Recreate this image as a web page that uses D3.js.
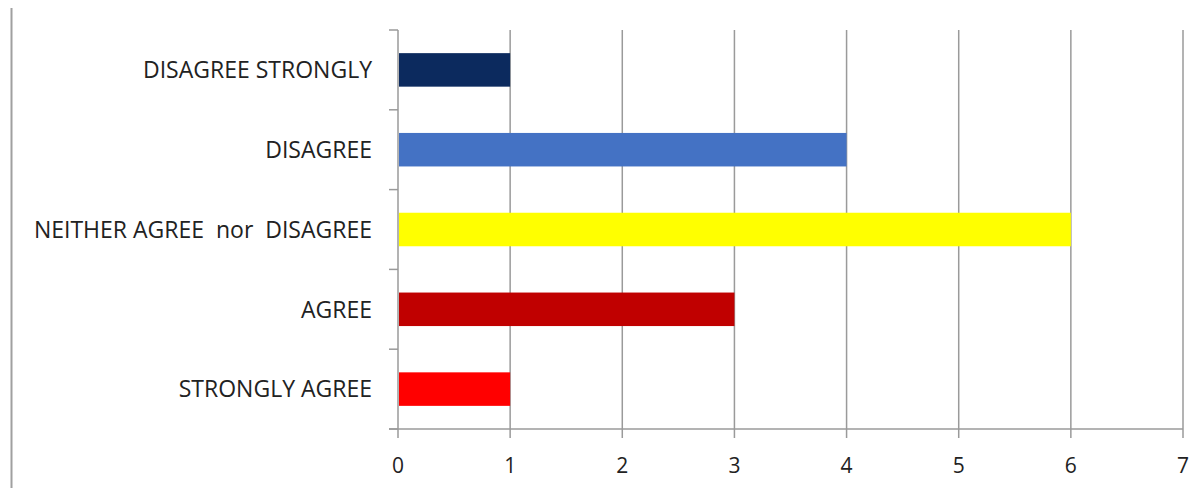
<!DOCTYPE html>
<html>
<head>
<meta charset="utf-8">
<script src="https://cdn.jsdelivr.net/npm/d3@7"></script>
<style>
  body { margin: 0; background: #fff; }
  text { font-family: "Open Sans", sans-serif; fill: #222; }
</style>
</head>
<body>
<svg id="chart" width="1189" height="488"></svg>
<script>
// categories top to bottom, as the chart shows them
const categories = ["DISAGREE STRONGLY", "DISAGREE", "NEITHER AGREE  nor  DISAGREE", "AGREE", "STRONGLY AGREE"]
const counts = [1, 4, 6, 3, 1]
const barColors = ["#0c2a5e", "#4472c4", "#ffff00", "#c00000", "#ff0000"]
const xTicks = [0, 1, 2, 3, 4, 5, 6, 7]

const svg = d3.select("#chart")
const margin = {top: 30, right: 6, bottom: 59, left: 398}
const width = 1189
const height = 488
const gridColor = "#9a9a9a"

// frame line on the far left
svg.append("line")
  .attr("x1", 11.5).attr("x2", 11.5)
  .attr("y1", 8).attr("y2", height)
  .attr("stroke", "#a0a0a0")
  .attr("stroke-width", 2)

const x = d3.scaleLinear()
  .domain([0, 7])
  .range([margin.left, width - margin.right])

const y = d3.scaleBand()
  .domain(categories)
  .range([margin.top, height - margin.bottom])
  .paddingInner(0.58)
  .paddingOuter(0.29)

const step = y.step()
const yBottom = height - margin.bottom

// vertical gridlines
svg.append("g")
  .selectAll("line")
  .data(xTicks)
  .join("line")
  .attr("x1", d => x(d)).attr("x2", d => x(d))
  .attr("y1", margin.top).attr("y2", yBottom + 9)
  .attr("stroke", gridColor)
  .attr("stroke-width", 1.5)

// y axis ticks at band boundaries
const boundaries = d3.range(categories.length + 1).map(i => margin.top + i * step)
svg.append("g")
  .selectAll("line")
  .data(boundaries)
  .join("line")
  .attr("x1", x(0) - 9).attr("x2", x(0))
  .attr("y1", d => d).attr("y2", d => d)
  .attr("stroke", gridColor)
  .attr("stroke-width", 1.5)

// x axis line
svg.append("line")
  .attr("x1", x(0) - 9).attr("x2", x(7))
  .attr("y1", yBottom).attr("y2", yBottom)
  .attr("stroke", gridColor)
  .attr("stroke-width", 1.5)

// bars
svg.append("g")
  .selectAll("rect")
  .data(categories)
  .join("rect")
  .attr("x", x(0) + 1)
  .attr("y", d => y(d))
  .attr("width", (d, i) => x(counts[i]) - x(0) - 1)
  .attr("height", y.bandwidth())
  .attr("fill", (d, i) => barColors[i])

// category labels
svg.append("g")
  .selectAll("text")
  .data(categories)
  .join("text")
  .attr("x", 372)
  .attr("y", d => y(d) + y.bandwidth() / 2)
  .attr("dy", "0.36em")
  .attr("text-anchor", "end")
  .attr("font-size", 23)
  .style("white-space", "pre")
  .text(d => d)

// x tick labels
svg.append("g")
  .selectAll("text")
  .data(xTicks)
  .join("text")
  .attr("x", d => x(d))
  .attr("y", 465)
  .attr("dy", "0.36em")
  .attr("text-anchor", "middle")
  .attr("font-size", 21)
  .text(d => d)
</script>
</body>
</html>
